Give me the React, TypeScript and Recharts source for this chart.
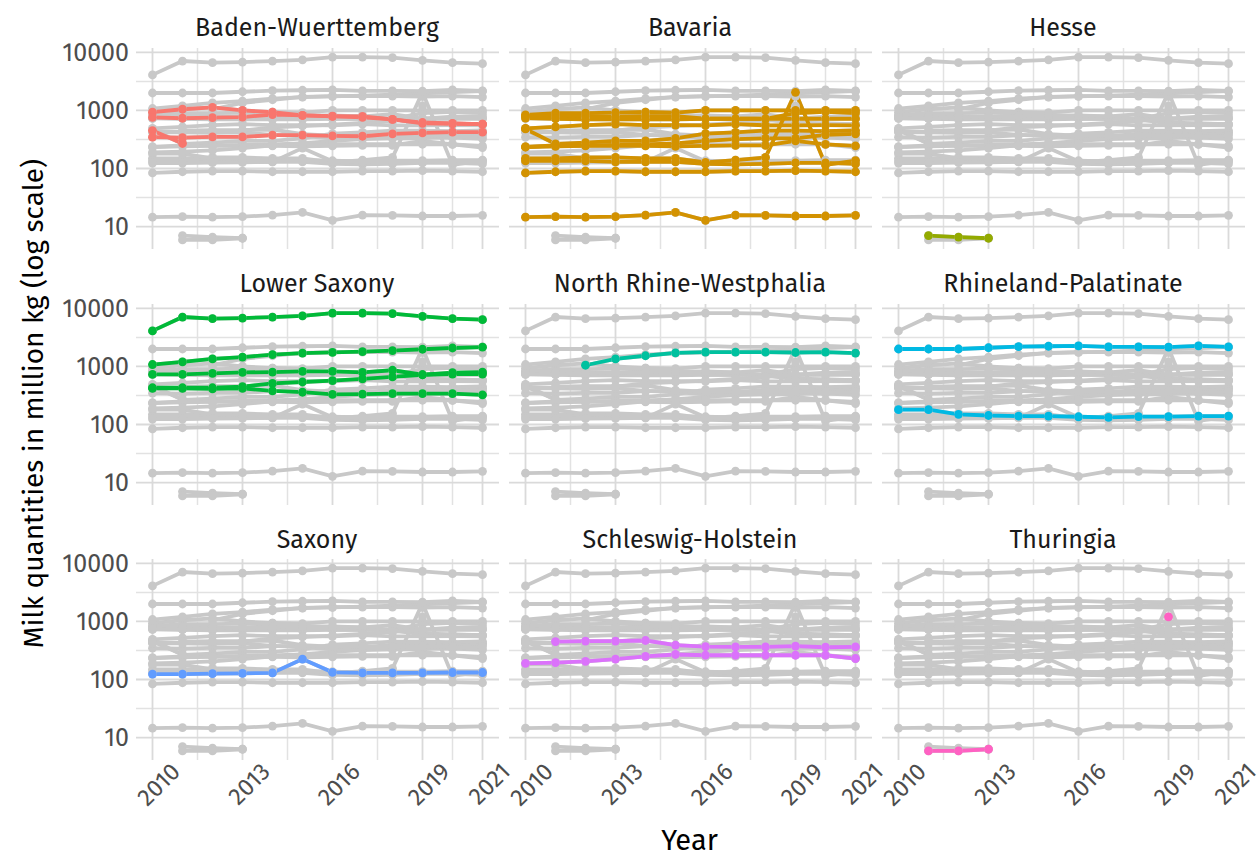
import React from "react";
import { CartesianGrid, Line, LineChart, XAxis, YAxis } from "recharts";

const years = [2010, 2011, 2012, 2013, 2014, 2015, 2016, 2017, 2018, 2019, 2020, 2021];
const xTicks = [2010, 2013, 2016, 2019, 2021];
const xMinor = [2011.5, 2014.5, 2017.5, 2020];
const yTicks = [10, 100, 1000, 10000];
const yMinor = [31.62, 316.2, 3162];

type S = (number | null)[];
const _ = null;

const bwSeries: S[] = [
  [935, 1050, 1130, 1000, 935, 820, 800, 790, 700, 600, 590, 580],
  [760, 735, 750, 770, 850, 820, 790, 760, 700, 620, 600, 580],
  [450, 270, _, _, _, _, _, _, _, _, _, _],
  [347, 340, 350, 350, 375, 375, 365, 360, 396, 410, 423, 423],
];
const bavariaSeries: S[] = [
  [840, 900, 900, 920, 940, 920, 1000, 1000, 1000, 1000, 1000, 1000],
  [800, 800, 800, 780, 800, 800, 720, 720, 720, 900, 950, 900],
  [740, 720, 700, 700, 700, 700, 720, 720, 720, 720, 720, 720],
  [490, 520, 560, 580, 560, 560, 555, 580, 555, 555, 560, 555],
  [480, 265, 280, 300, 300, 330, 400, 420, 450, 450, 440, 452],
  [235, 250, 250, 255, 260, 270, 300, 320, 330, 330, 380, 396],
  [235, 240, 245, 245, 245, 240, 245, 250, 250, 300, 260, 245],
  [150, 150, 155, 155, 150, 150, 128, 140, 155, 2050, 115, 137],
  [135, 135, 135, 130, 130, 130, 120, 118, 120, 125, 125, 120],
  [84, 88, 90, 90, 88, 88, 88, 90, 90, 92, 90, 88],
  [14.5, 14.8, 14.5, 14.8, 15.8, 17.5, 12.8, 15.8, 15.6, 15.2, 15.2, 15.6],
];
const hesseSeries: S[] = [
  [_, 7.0, 6.6, 6.3, _, _, _, _, _, _, _, _],
];
const lowerSaxonySeries: S[] = [
  [4100, 7100, 6650, 6800, 7100, 7450, 8300, 8300, 8100, 7300, 6650, 6400],
  [1080, 1200, 1350, 1450, 1600, 1700, 1750, 1800, 1880, 1980, 2080, 2150],
  [730, 730, 760, 790, 800, 820, 820, 790, 860, 720, 740, 740],
  [430, 430, 430, 450, 510, 540, 570, 610, 660, 720, 780, 800],
  [420, 420, 410, 420, 380, 360, 330, 335, 340, 340, 340, 325],
];
const nrwSeries: S[] = [
  [_, _, 1050, 1350, 1530, 1720, 1760, 1760, 1760, 1740, 1760, 1700],
];
const rpSeries: S[] = [
  [2000, 2000, 2000, 2100, 2200, 2230, 2260, 2180, 2180, 2150, 2270, 2170],
  [180, 180, 150, 143, 140, 139, 136, 133, 137, 137, 139, 140],
];
const saxonySeries: S[] = [
  [124, 124, 126, 128, 130, 225, 133, 130, 130, 130, 132, 132],
];
const shSeries: S[] = [
  [_, 450, 460, 460, 470, 390, 370, 365, 365, 375, 360, 365],
  [190, 195, 205, 225, 250, 270, 262, 262, 262, 262, 262, 230],
];
const thuringiaSeries: S[] = [
  [_, 5.9, 5.9, 6.3, _, _, _, _, _, _, _, _],
  [_, _, _, _, _, _, _, _, _, 1200, _, _],
];

const states = [
  { name: "Baden-Wuerttemberg", color: "#F8766D", series: bwSeries },
  { name: "Bavaria", color: "#D39200", series: bavariaSeries },
  { name: "Hesse", color: "#93AA00", series: hesseSeries },
  { name: "Lower Saxony", color: "#00BA38", series: lowerSaxonySeries },
  { name: "North Rhine-Westphalia", color: "#00C19F", series: nrwSeries },
  { name: "Rhineland-Palatinate", color: "#00B9E3", series: rpSeries },
  { name: "Saxony", color: "#619CFF", series: saxonySeries },
  { name: "Schleswig-Holstein", color: "#DB72FB", series: shSeries },
  { name: "Thuringia", color: "#FF61C3", series: thuringiaSeries },
];

const stateKeys = states.map((st, si) => st.series.map((_s, i) => `s${si}_${i}`));
const allKeys = stateKeys.flat();

const data = years.map((year, yi) => {
  const row: Record<string, number | null> = { year };
  states.forEach((st, si) => st.series.forEach((s, i) => (row[`s${si}_${i}`] = s[yi])));
  return row;
});

const FONT = "'Fira Sans', 'Open Sans', sans-serif";
const GREY = "#C8C8C8";
const PANEL_W = 363;
const PANEL_H = 201;
const COL_X = [135.5, 508.5, 881.5];
const ROW_Y = [47.5, 303.5, 559];
const Y_AXIS_W = 110;
const X_AXIS_H = 80;
const LW = 3.8;
const DOT_R = 4.4;

const XTick = (props: any) => {
  const { x, y, payload } = props;
  const ax = x + 29;
  const ay = y + 13;
  return (
    <text x={ax} y={ay} textAnchor="end" transform={`rotate(-45 ${ax} ${ay})`} fill="#4D4D4D" fontSize={24} fontFamily={FONT}>
      {payload.value}
    </text>
  );
};

const Panel = ({ idx }: { idx: number }) => {
  const r = Math.floor(idx / 3);
  const c = idx % 3;
  const st = states[idx];
  const showY = c === 0;
  const showX = r === 2;
  const w = PANEL_W + (showY ? Y_AXIS_W : 0);
  const h = PANEL_H + (showX ? X_AXIS_H : 0);
  return (
    <div style={{ position: "absolute", left: COL_X[c] - (showY ? Y_AXIS_W : 0), top: ROW_Y[r], width: w, height: h }}>
      <LineChart width={w} height={h} data={data} margin={{ top: 0, right: 0, bottom: 0, left: 0 }}>
        <CartesianGrid horizontalValues={yMinor} verticalValues={xMinor} stroke="#E2E2E2" strokeWidth={1.5} />
        <CartesianGrid horizontalValues={yTicks} verticalValues={xTicks} stroke="#DADADA" strokeWidth={1.8} />
        <XAxis
          type="number"
          dataKey="year"
          domain={[2009.45, 2021.55]}
          ticks={xTicks}
          allowDataOverflow
          hide={!showX}
          height={X_AXIS_H}
          axisLine={false}
          tickLine={false}
          tickSize={0}
          tickMargin={0}
          interval={0}
          tick={<XTick />}
        />
        <YAxis
          scale="log"
          type="number"
          domain={[4.11, 11910]}
          ticks={yTicks}
          allowDataOverflow
          hide={!showY}
          width={Y_AXIS_W}
          axisLine={false}
          tickLine={false}
          tickSize={0}
          tickMargin={7}
          interval={0}
          tick={{ fill: "#4D4D4D", fontSize: 25, fontFamily: FONT }}
        />
        {allKeys.map((k) => (
          <Line
            key={`g-${k}`}
            dataKey={k}
            stroke={GREY}
            strokeWidth={LW}
            dot={{ r: DOT_R, fill: GREY, stroke: "none", strokeWidth: 0 }}
            activeDot={false}
            isAnimationActive={false}
          />
        ))}
        {stateKeys[idx].map((k) => (
          <Line
            key={`c-${k}`}
            dataKey={k}
            stroke={st.color}
            strokeWidth={LW}
            dot={{ r: DOT_R, fill: st.color, stroke: "none", strokeWidth: 0 }}
            activeDot={false}
            isAnimationActive={false}
          />
        ))}
      </LineChart>
    </div>
  );
};

export default function App() {
  return (
    <div style={{ position: "absolute", left: 0, top: 0, width: 1260, height: 859, background: "#fff", fontFamily: FONT, overflow: "hidden" }}>
      <style>{".recharts-surface{overflow:visible}"}</style>
      {states.map((_s, i) => (
        <Panel key={i} idx={i} />
      ))}
      <svg width={1260} height={859} style={{ position: "absolute", left: 0, top: 0, pointerEvents: "none" }}>
        {states.map((st, i) => (
          <text
            key={st.name}
            x={COL_X[i % 3] + PANEL_W / 2}
            y={ROW_Y[Math.floor(i / 3)] - 11.5}
            textAnchor="middle"
            fontSize={25}
            fill="#1A1A1A"
            fontFamily={FONT}
          >
            {st.name}
          </text>
        ))}
        <text x={43} y={403.6} transform="rotate(-90 43 403.6)" textAnchor="middle" fontSize={28} fill="#000" fontFamily={FONT}>
          Milk quantities in million kg (log scale)
        </text>
        <text x={689.5} y={850} textAnchor="middle" fontSize={29} fill="#000" fontFamily={FONT}>
          Year
        </text>
      </svg>
    </div>
  );
}
